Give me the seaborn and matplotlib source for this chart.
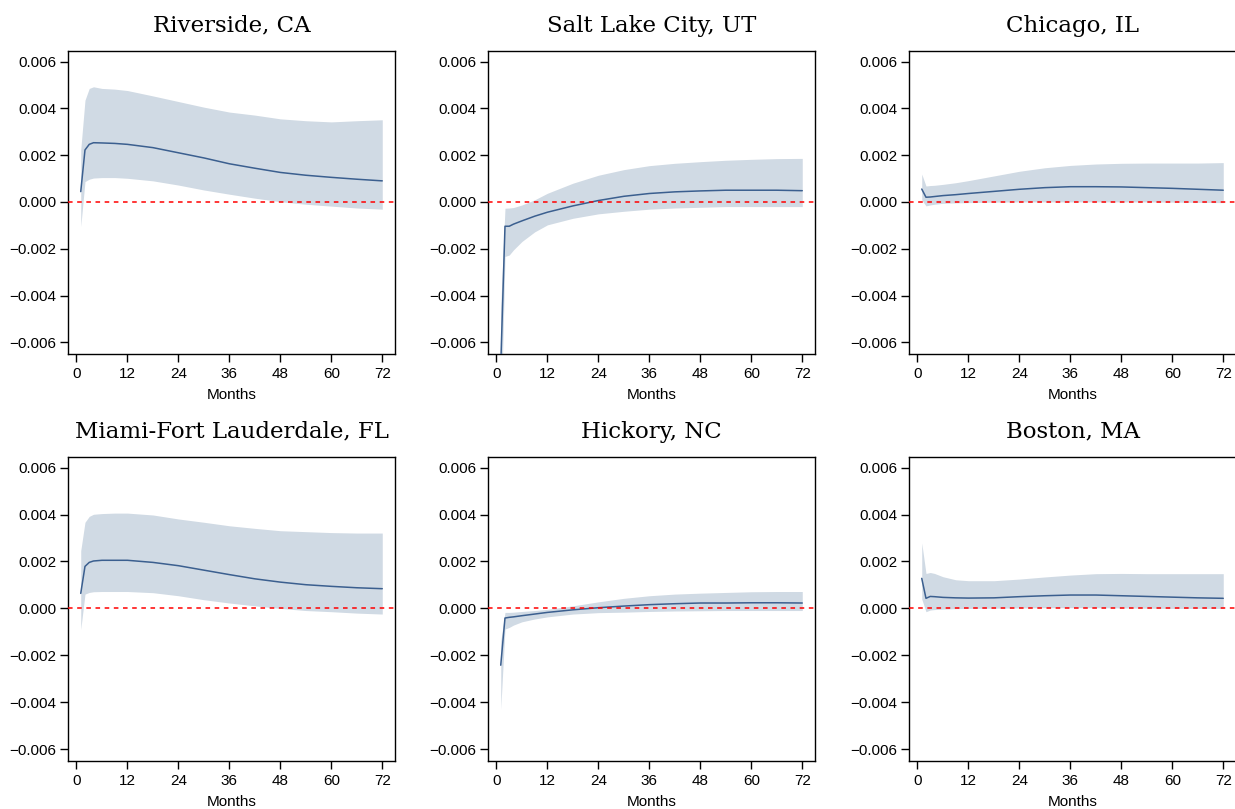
import numpy as np
import pandas as pd
import matplotlib
matplotlib.use("Agg")
import matplotlib.pyplot as plt
import seaborn as sns

months = [1, 2, 3, 4, 6, 9, 12, 18, 24, 30, 36, 42, 48, 54, 60, 66, 72]

cities = ["Riverside, CA", "Salt Lake City, UT", "Chicago, IL",
          "Miami-Fort Lauderdale, FL", "Hickory, NC", "Boston, MA"]

riverside_mean = [0.00044, 0.00222, 0.00246, 0.00253, 0.00252, 0.00250, 0.00246, 0.00232, 0.00210,
                  0.00188, 0.00163, 0.00144, 0.00126, 0.00114, 0.00105, 0.00097, 0.00090]
riverside_hi = [0.00223, 0.00435, 0.00485, 0.00492, 0.00485, 0.00482, 0.00476, 0.00453, 0.00429,
                0.00405, 0.00384, 0.00371, 0.00355, 0.00347, 0.00342, 0.00347, 0.00351]
riverside_lo = [-0.00105, 0.00087, 0.00097, 0.00102, 0.00104, 0.00104, 0.00101, 0.00090, 0.00072,
                0.00051, 0.00033, 0.00016, 0.00001, -0.00010, -0.00018, -0.00026, -0.00031]

saltlake_mean = [-0.00700, -0.00104, -0.00104, -0.00095, -0.00081, -0.00061, -0.00044, -0.00017, 0.00006,
                 0.00024, 0.00036, 0.00043, 0.00047, 0.00050, 0.00050, 0.00050, 0.00048]
saltlake_hi = [-0.00445, -0.00027, -0.00026, -0.00024, -0.00013, 0.00009, 0.00037, 0.00080, 0.00114,
               0.00138, 0.00155, 0.00165, 0.00172, 0.00178, 0.00182, 0.00185, 0.00186]
saltlake_lo = [-0.00970, -0.00233, -0.00227, -0.00205, -0.00169, -0.00128, -0.00098, -0.00070, -0.00051,
               -0.00040, -0.00031, -0.00026, -0.00023, -0.00020, -0.00020, -0.00020, -0.00020]

chicago_mean = [0.00055, 0.00020, 0.00021, 0.00023, 0.00027, 0.00031, 0.00036, 0.00045, 0.00054,
                0.00061, 0.00065, 0.00065, 0.00064, 0.00061, 0.00058, 0.00054, 0.00050]
chicago_hi = [0.00119, 0.00068, 0.00070, 0.00071, 0.00075, 0.00082, 0.00091, 0.00111, 0.00131,
              0.00146, 0.00156, 0.00162, 0.00165, 0.00166, 0.00166, 0.00166, 0.00168]
chicago_lo = [0.00009, -0.00017, -0.00013, -0.00010, -0.00006, -0.00004, -0.00003, -0.00001, 0.00000,
              0.00000, 0.00000, 0.00000, 0.00000, 0.00000, -0.00001, -0.00002, -0.00003]

miami_mean = [0.00064, 0.00179, 0.00196, 0.00202, 0.00205, 0.00205, 0.00205, 0.00196, 0.00182,
              0.00163, 0.00144, 0.00126, 0.00112, 0.00101, 0.00094, 0.00088, 0.00084]
miami_hi = [0.00246, 0.00367, 0.00392, 0.00401, 0.00404, 0.00406, 0.00406, 0.00398, 0.00381,
            0.00367, 0.00352, 0.00341, 0.00331, 0.00327, 0.00323, 0.00321, 0.00321]
miami_lo = [-0.00090, 0.00061, 0.00068, 0.00071, 0.00072, 0.00072, 0.00072, 0.00067, 0.00054,
            0.00037, 0.00023, 0.00011, 0.00000, -0.00009, -0.00014, -0.00020, -0.00024]

hickory_mean = [-0.00242, -0.00041, -0.00038, -0.00036, -0.00031, -0.00024, -0.00017, -0.00006, 0.00003,
                0.00010, 0.00016, 0.00020, 0.00023, 0.00023, 0.00024, 0.00024, 0.00023]
hickory_hi = [-0.00140, -0.00017, -0.00017, -0.00016, -0.00013, -0.00009, -0.00004, 0.00011, 0.00028,
              0.00043, 0.00054, 0.00061, 0.00065, 0.00068, 0.00071, 0.00072, 0.00072]
hickory_lo = [-0.00429, -0.00088, -0.00081, -0.00071, -0.00057, -0.00045, -0.00036, -0.00024, -0.00018,
              -0.00016, -0.00013, -0.00011, -0.00010, -0.00009, -0.00009, -0.00009, -0.00009]

boston_mean = [0.00128, 0.00043, 0.00051, 0.00050, 0.00047, 0.00045, 0.00044, 0.00045, 0.00050,
               0.00054, 0.00057, 0.00057, 0.00054, 0.00051, 0.00048, 0.00045, 0.00043]
boston_hi = [0.00279, 0.00149, 0.00153, 0.00149, 0.00135, 0.00122, 0.00118, 0.00118, 0.00125,
             0.00134, 0.00142, 0.00148, 0.00149, 0.00148, 0.00148, 0.00148, 0.00148]
boston_lo = [0.00040, -0.00014, -0.00007, -0.00005, -0.00003, -0.00001, 0.00000, 0.00001, 0.00002,
             0.00003, 0.00003, 0.00003, 0.00002, 0.00001, 0.00000, 0.00000, 0.00000]

means = [riverside_mean, saltlake_mean, chicago_mean, miami_mean, hickory_mean, boston_mean]
his = [riverside_hi, saltlake_hi, chicago_hi, miami_hi, hickory_hi, boston_hi]
los = [riverside_lo, saltlake_lo, chicago_lo, miami_lo, hickory_lo, boston_lo]

yticks = [-0.006, -0.004, -0.002, 0.000, 0.002, 0.004, 0.006]
ytick_labels = ["\u22120.006", "\u22120.004", "\u22120.002", "0.000", "0.002", "0.004", "0.006"]
xticks = [0, 12, 24, 36, 48, 60, 72]

sns.set_style("ticks")
plt.rcParams["font.family"] = ["Liberation Sans", "DejaVu Sans"]
plt.rcParams["axes.linewidth"] = 1.0
plt.rcParams["text.color"] = "black"
plt.rcParams["axes.labelcolor"] = "black"
plt.rcParams["xtick.color"] = "black"
plt.rcParams["ytick.color"] = "black"

fig = plt.figure(figsize=(12.35, 8.09), dpi=100)
W, H = 1235.0, 809.0
lefts = [68, 488, 909]
rows = [(51, 354), (457, 761)]
axw = 327

line_color = "#3b5f8f"
band_color = "#d0dae4"

for i, city in enumerate(cities):
    r, c = divmod(i, 3)
    top, bot = rows[r]
    ax = fig.add_axes([lefts[c] / W, 1 - bot / H, axw / W, (bot - top) / H])
    df = pd.DataFrame({"Months": months, "mean": means[i], "lo": los[i], "hi": his[i]})
    ax.fill_between(df["Months"], df["lo"], df["hi"], color=band_color, linewidth=0, zorder=1)
    sns.lineplot(data=df, x="Months", y="mean", ax=ax, color=line_color, linewidth=1.1, zorder=3)
    ax.axhline(0, color="red", linestyle=(0, (3, 3)), linewidth=1.1, zorder=4)
    ax.set_xlim(-2, 75)
    ax.set_ylim(-0.0065, 0.00645)
    ax.set_xticks(xticks)
    ax.set_yticks(yticks)
    ax.set_yticklabels(ytick_labels)
    ax.tick_params(axis="both", labelsize=11, length=5.5, width=1, direction="out",
                   color="black", labelcolor="black")
    ax.tick_params(axis="y", pad=3)
    ax.tick_params(axis="x", pad=4)
    ax.set_ylabel("")
    ax.set_xlabel("Months", fontsize=11, labelpad=5, color="black")
    for s in ax.spines.values():
        s.set_visible(True)
        s.set_color("black")
        s.set_linewidth(1.0)
    ax.set_title(city, family=["DejaVu Serif"], fontsize=16.5, pad=14, color="black")

fig.savefig("out.png", dpi=100)
